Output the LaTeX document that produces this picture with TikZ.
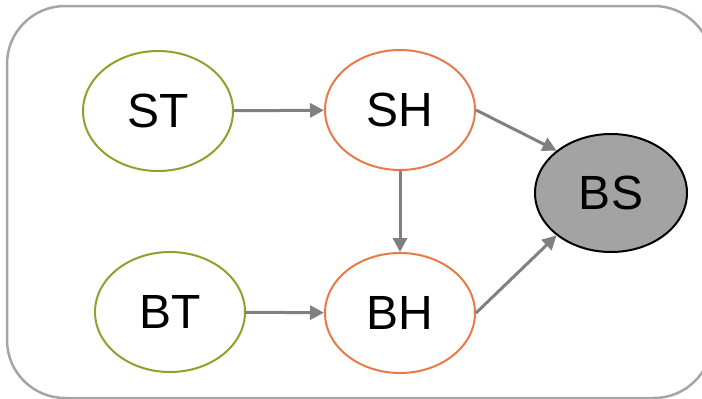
\documentclass[tikz,border=0pt]{standalone}
\usepackage{fontspec}
\setmainfont{Liberation Sans}
\usetikzlibrary{arrows.meta,shapes.geometric}
\definecolor{grn}{HTML}{8CA22A}
\definecolor{org}{HTML}{EA7A45}
\definecolor{bsfill}{HTML}{A3A3A3}
\definecolor{frame}{HTML}{A6A6A0}
\definecolor{arr}{HTML}{808080}
\begin{document}
\begin{tikzpicture}[x=1pt,y=-1pt,
  var/.style={ellipse, minimum width=150pt, minimum height=120pt, line width=2pt, fill=white, font=\fontsize{48}{52}\selectfont, inner sep=0pt},
  obs/.style={var, draw=grn},
  hid/.style={var, draw=org},
  res/.style={var, draw=black, fill=bsfill, minimum width=152pt, minimum height=118pt},
  link/.style={draw=arr, line width=3pt, -{Triangle[length=14pt,width=14pt]}}]
\useasboundingbox (0,0) rectangle (702,399);
\draw[frame, line width=2.5pt, rounded corners=58pt] (7,6) rectangle (712,398);
\node[obs] (ST) at (158,111) {ST};
\node[hid] (SH) at (400,110) {SH};
\node[obs] (BT) at (170,312) {BT};
\node[hid] (BH) at (400,313) {BH};
\node[res] (BS) at (611,193) {BS};
\draw[link] (ST) -- (SH);
\draw[link] (BT) -- (BH);
\draw[link] (SH) -- (BH);
\draw[link] (SH.east) -- (BS.north west);
\draw[link] (BH.east) -- (BS.south west);
\end{tikzpicture}
\end{document}
